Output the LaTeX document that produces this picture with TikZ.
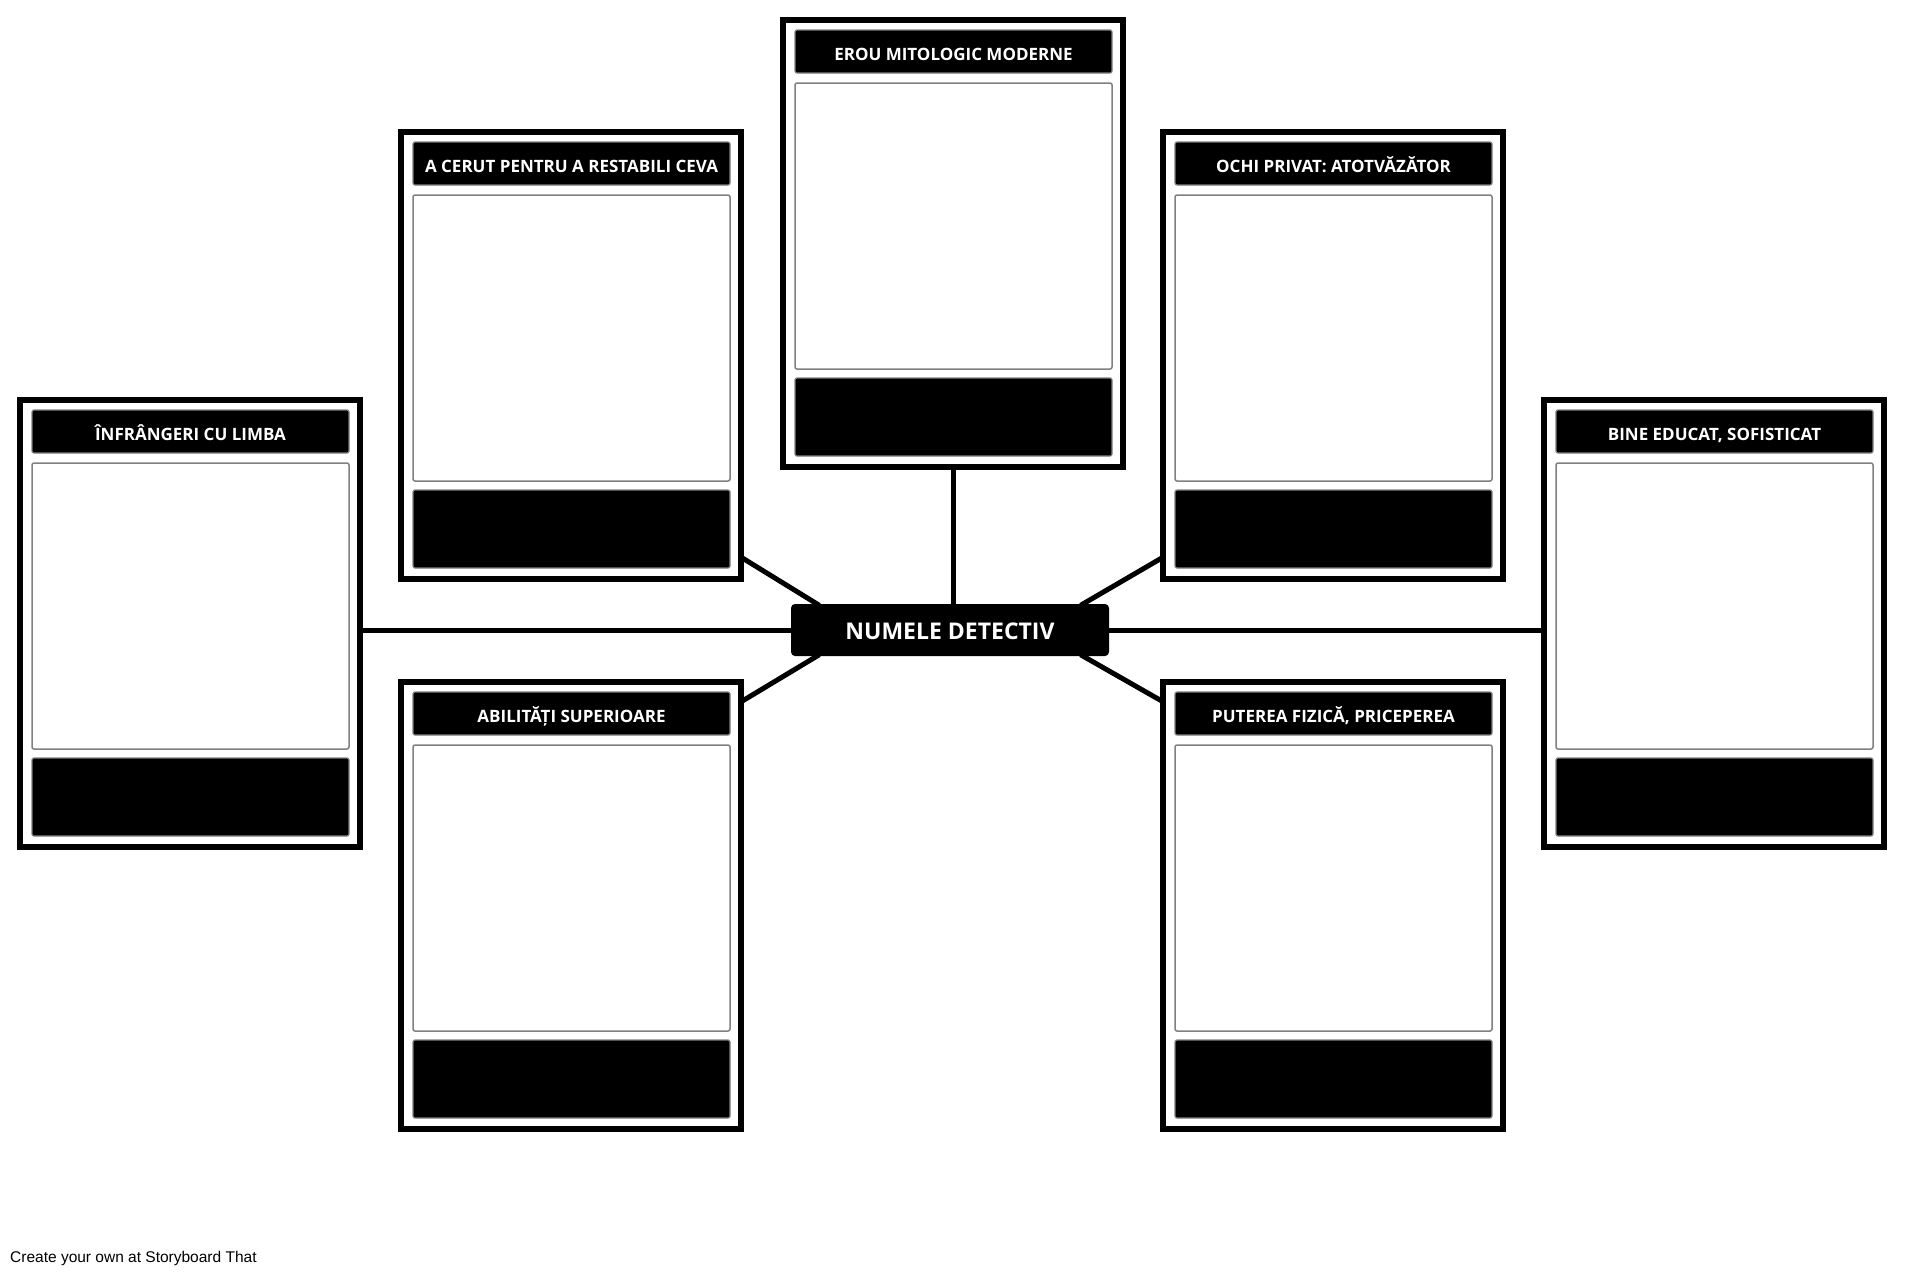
\documentclass[tikz,border=0pt]{standalone}
\usepackage{fontspec}
\setmainfont{Open Sans}
\newfontfamily\footfont{Liberation Sans}
\usetikzlibrary{calc}
\pgfdeclarelayer{bg}
\pgfsetlayers{bg,main}
\tikzset{
  cardframe/.style={draw=black, line width=6pt, fill=white, minimum width=340pt, minimum height=447pt, inner sep=0pt},
  titlebar/.style={draw=black!50, line width=1.2pt, fill=black, rounded corners=2pt, minimum width=317pt, minimum height=43pt, inner sep=0pt, text=white, text height=17pt, text depth=0pt, font=\fontsize{17}{20}\selectfont\bfseries},
  contentbox/.style={draw=black!50, line width=1.5pt, fill=white, rounded corners=2pt, minimum width=317pt, minimum height=286pt, inner sep=0pt},
  bottombar/.style={draw=black!50, line width=1.2pt, fill=black, rounded corners=2pt, minimum width=317pt, minimum height=78pt, inner sep=0pt},
  centerbox/.style={fill=black, rounded corners=4pt, minimum width=318pt, minimum height=52pt, inner sep=0pt, text=white, text height=18pt, text depth=0pt, font=\fontsize{23}{27}\selectfont\bfseries},
  link/.style={draw=black, line width=5pt, shorten <=-3pt, shorten >=-3pt},
}
\newcommand\mycard[4]{%
  \node[cardframe] (#1) at ({#2+173},{#3+226.5}) {};
  \node[titlebar] (#1t) at ({#2+173.5},{#3+34.5}) {#4};
  \node[contentbox] (#1c) at ({#2+173.5},{#3+209}) {};
  \node[bottombar] (#1b) at ({#2+173.5},{#3+400}) {};
}
\begin{document}
\begin{tikzpicture}[x=1pt,y=-1pt]
\useasboundingbox (0,0) rectangle (1905,1278);
\mycard{L}{17}{397}{ÎNFRÂNGERI CU LIMBA}
\mycard{UL}{398}{129}{A CERUT PENTRU A RESTABILI CEVA}
\mycard{T}{780}{17}{EROU MITOLOGIC MODERNE}
\mycard{UR}{1160}{129}{OCHI PRIVAT: ATOTVĂZĂTOR}
\mycard{R}{1541}{397}{BINE EDUCAT, SOFISTICAT}
\mycard{LL}{398}{679}{ABILITĂȚI SUPERIOARE}
\mycard{LR}{1160}{679}{PUTEREA FIZICĂ, PRICEPEREA}
\node[centerbox] (c) at (950,630) {NUMELE DETECTIV};
\node[anchor=west, inner sep=0pt, font=\footfont\fontsize{15.5}{18}\selectfont] (foot) at (10,1258) {Create your own at Storyboard That};
\begin{pgfonlayer}{bg}
  \fill[white] (0,0) rectangle (1905,1278);
  \draw[link] (c.west) -- (c.west -| L.east);
  \draw[link] (c.east) -- (c.east -| R.west);
  \draw[link] (T.south) -- (T.south |- c.north);
  \draw[link] ([yshift=23pt]UL.south east) -- ([xshift=26pt]c.north west);
  \draw[link] ([yshift=23pt]UR.south west) -- ([xshift=-26pt]c.north east);
  \draw[link] ([yshift=-21pt]LL.north east) -- ([xshift=26pt]c.south west);
  \draw[link] ([yshift=-21pt]LR.north west) -- ([xshift=-26pt]c.south east);
\end{pgfonlayer}
\end{tikzpicture}
\end{document}
